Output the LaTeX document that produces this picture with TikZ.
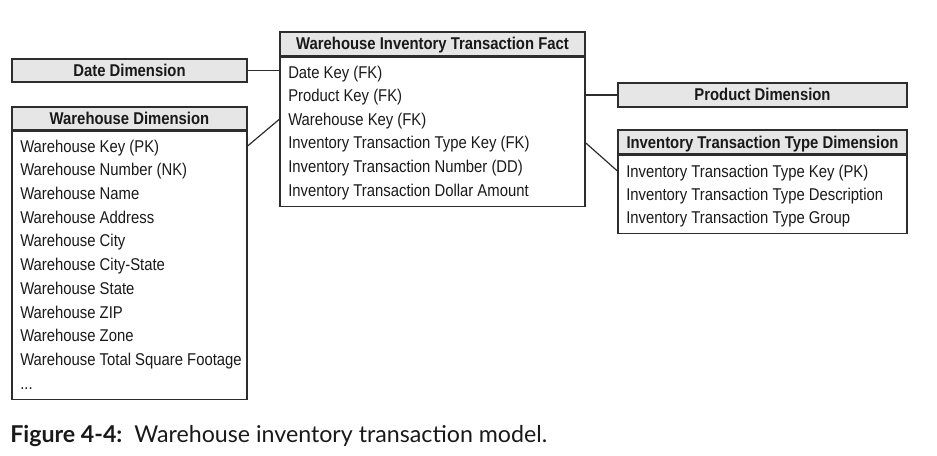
\documentclass[tikz,border=0pt]{standalone}
\usepackage{fontspec}
\setmainfont{Liberation Sans}[FakeStretch=0.87]
\newfontfamily\capfont{Lato}
\usepackage{tikz}

\definecolor{hdrgray}{RGB}{230,230,230}
\definecolor{linegray}{RGB}{45,45,45}
\definecolor{inkgray}{RGB}{25,25,25}

\begin{document}
\begin{tikzpicture}[x=0.75pt,y=0.75pt,yscale=-1,xscale=1,
	hdr/.style={draw=linegray, fill=hdrgray, line width=0.9pt, inner sep=0pt, text=inkgray, font=\fontsize{12.8}{15}\selectfont\bfseries, text height=9pt, text depth=0pt},
	tbl/.style={draw=linegray, line width=0.9pt, inner sep=0pt, anchor=north},
	row/.style={anchor=west, inner sep=0pt, text=inkgray, font=\fontsize{12.8}{15}\selectfont, text height=9.2pt, text depth=0pt},
	link/.style={draw=linegray, line width=0.9pt}]
	\useasboundingbox (0,0) rectangle (937,456);
	
	%Table: Date Dimension
	\node[hdr, minimum width=176.25pt, minimum height=17.25pt] (datehd) at (129.5,70.5) {Date Dimension};
	
	%Table: Warehouse Dimension
	\node[hdr, minimum width=176.25pt, minimum height=17.25pt] (whhd) at (129.5,118.5) {Warehouse Dimension};
	\node[tbl, minimum width=176.25pt, minimum height=201pt] (whbd) at (whhd.south) {};
	\foreach \t [count=\i] in {Warehouse Key (PK), Warehouse Number (NK), Warehouse Name, Warehouse Address, Warehouse City, Warehouse City-State, Warehouse State, Warehouse ZIP, Warehouse Zone, Warehouse Total Square Footage}
		\node[row] (wh\i) at (20,122.3+23.7*\i) {\t};
	\node[row] (wh11) at (20,383) {...};
	
	%Table: Warehouse Inventory Transaction Fact
	\node[hdr, minimum width=228.75pt, minimum height=18pt] (facthd) at (432.5,44) {Warehouse Inventory Transaction Fact};
	\node[tbl, minimum width=228.75pt, minimum height=111.75pt] (factbd) at (facthd.south) {};
	\foreach \t [count=\i] in {Date Key (FK), Product Key (FK), Warehouse Key (FK), Inventory Transaction Type Key (FK), Inventory Transaction Number (DD), Inventory Transaction Dollar Amount}
		\node[row] (fact\i) at (288,48.4+23.6*\i) {\t};
	
	%Table: Product Dimension
	\node[hdr, minimum width=216.75pt, minimum height=18pt] (prodhd) at (762.5,95) {Product Dimension};
	
	%Table: Inventory Transaction Type Dimension
	\node[hdr, minimum width=216.75pt, minimum height=18pt] (typehd) at (762.5,142) {Inventory Transaction Type Dimension};
	\node[tbl, minimum width=216.75pt, minimum height=58.5pt] (typebd) at (typehd.south) {};
	\foreach \t [count=\i] in {Inventory Transaction Type Key (PK), Inventory Transaction Type Description, Inventory Transaction Type Group}
		\node[row] (type\i) at (626,147.7+23.3*\i) {\t};
	
	%Straight Lines
	\draw[link] (datehd.east) -- (datehd.east -| factbd.west);
	\draw[link] (whbd.east |- wh1) -- (factbd.west |- fact3);
	\draw[link] (factbd.east |- prodhd) -- (prodhd.west);
	\draw[link] (factbd.east |- fact4) -- (typebd.west |- type1);
	
	% Text Node
	\node[anchor=base west, inner sep=0pt, text=inkgray, font=\capfont\fontsize{17.4}{20}\selectfont] (caption) at (10,442) {{\bfseries Figure 4-4:}\ \ Warehouse inventory transaction model.};
\end{tikzpicture}
\end{document}
